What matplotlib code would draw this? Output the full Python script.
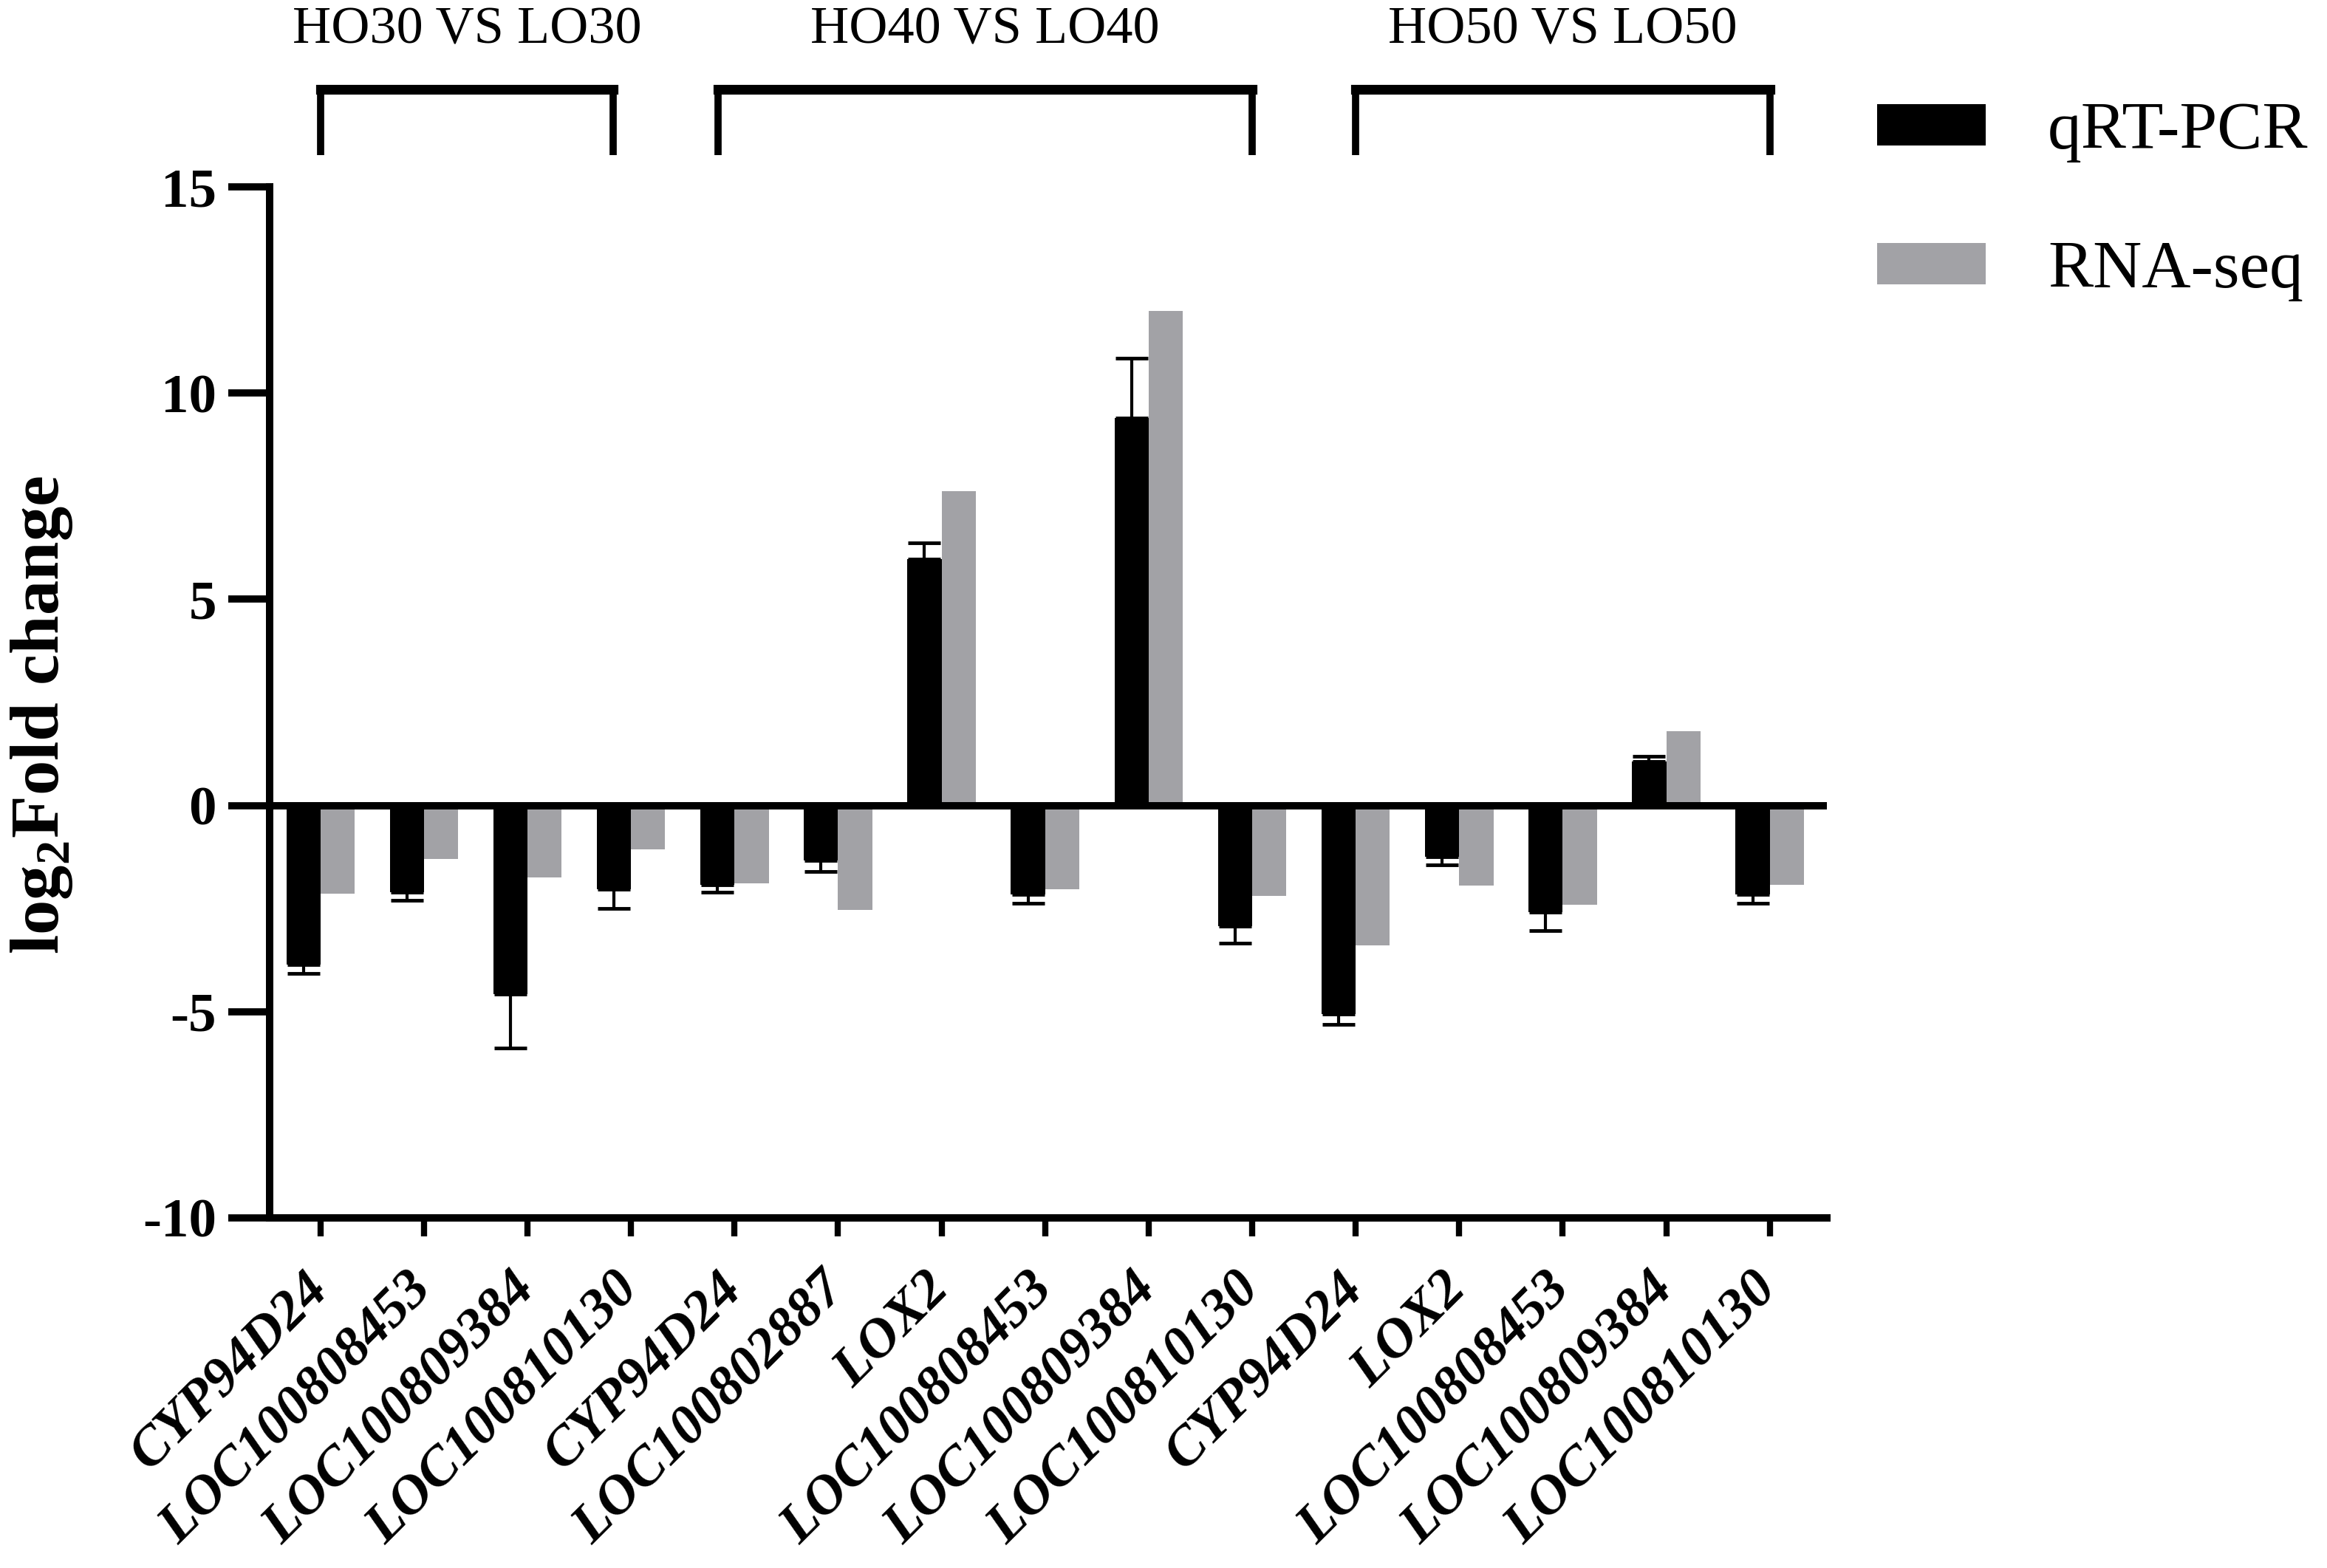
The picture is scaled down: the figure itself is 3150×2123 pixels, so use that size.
import numpy as np
import matplotlib
matplotlib.use("Agg")
import matplotlib.pyplot as plt
from matplotlib.transforms import blended_transform_factory

plt.rcParams['font.family'] = ['Liberation Serif', 'DejaVu Serif']
plt.rcParams['axes.unicode_minus'] = False
plt.rcParams['mathtext.fontset'] = 'custom'
plt.rcParams['mathtext.rm'] = 'Liberation Serif'
plt.rcParams['mathtext.bf'] = 'Liberation Serif:bold'

genes = ["CYP94D24", "LOC100808453", "LOC100809384", "LOC100810130",
         "CYP94D24", "LOC100802887", "LOX2", "LOC100808453", "LOC100809384", "LOC100810130",
         "CYP94D24", "LOX2", "LOC100808453", "LOC100809384", "LOC100810130"]
qrt_pcr = [-3.85, -2.10, -4.57, -2.03, -1.92, -1.33, 5.97, -2.15, 9.39, -2.92,
           -5.05, -1.24, -2.58, 1.06, -2.15]
qrt_err = [0.22, 0.20, 1.31, 0.47, 0.18, 0.28, 0.39, 0.23, 1.45, 0.41,
           0.25, 0.20, 0.45, 0.14, 0.23]
rna_seq = [-2.13, -1.29, -1.75, -1.06, -1.88, -2.53, 7.63, -2.04, 12.0, -2.20,
           -3.40, -1.95, -2.40, 1.81, -1.92]
groups = ["HO30 VS LO30", "HO40 VS LO40", "HO50 VS LO50"]
series = ["qRT-PCR", "RNA-seq"]
yticks = [-10, -5, 0, 5, 10, 15]

fig = plt.figure(figsize=(31.5, 21.23), dpi=100)
ax = fig.add_axes([0.1159, 0.2233, 0.785 - 0.1159, 0.8808 - 0.2233])

x = np.arange(len(genes))
w = 0.33
q = np.array(qrt_pcr)
e = np.array(qrt_err)
b1 = ax.bar(x - w / 2, q, width=w, color='black', label=series[0], zorder=2)
b2 = ax.bar(x + w / 2, rna_seq, width=w, color='#a2a2a6', label=series[1], zorder=2)
lower = np.where(q < 0, e, 0)
upper = np.where(q > 0, e, 0)
ax.errorbar(x - w / 2, q, yerr=[lower, upper], fmt='none', ecolor='black',
            elinewidth=3, capsize=16, capthick=3.5, zorder=3)

ax.axhline(0, color='black', lw=7.2, zorder=4)

ax.set_xlim(-0.49, 14.55)
ax.set_ylim(-10, 15)
ax.set_yticks(yticks)
ax.set_yticklabels([str(t) for t in yticks], fontsize=54, fontweight='bold')
ax.set_xticks(x)
ax.set_xticklabels(genes, rotation=45, ha='right', va='center',
                   rotation_mode='anchor', fontsize=54,
                   fontweight='bold', fontstyle='italic')
ax.tick_params(axis='y', direction='out', length=40, width=7, pad=12)
ax.tick_params(axis='x', direction='out', length=18, width=6, pad=44)
for s in ['top', 'right']:
    ax.spines[s].set_visible(False)
for s in ['left', 'bottom']:
    ax.spines[s].set_linewidth(7.2)

fig.text(0.018, 0.544, r'log$_{\mathbf{2}}$Fold change', rotation=90,
         ha='center', va='center', fontsize=68, fontweight='bold')

# group brackets
tr = blended_transform_factory(ax.transData, ax.transAxes)
spans = [(0, 2.83), (3.84, 9.0), (10.0, 14.0)]
for (a, b), g in zip(spans, groups):
    ax.plot([a, b], [1.0946, 1.0946], color='black', lw=9.5, transform=tr,
            clip_on=False, solid_capstyle='projecting')
    ax.plot([a, a], [1.0946, 1.031], color='black', lw=7, transform=tr,
            clip_on=False, solid_capstyle='butt')
    ax.plot([b, b], [1.0946, 1.031], color='black', lw=7, transform=tr,
            clip_on=False, solid_capstyle='butt')
    ax.text((a + b) / 2, 1.152, g, transform=tr, ha='center', va='center',
            fontsize=52)

ax.legend(handles=[b1, b2], labels=series, loc='upper left',
          bbox_to_anchor=(0.8067, 0.935), bbox_transform=fig.transFigure,
          frameon=False, fontsize=66, handlelength=1.6, handleheight=0.56,
          handletextpad=0.92, labelspacing=1.15, borderpad=0, borderaxespad=0)

fig.savefig('out.png', dpi=100)
